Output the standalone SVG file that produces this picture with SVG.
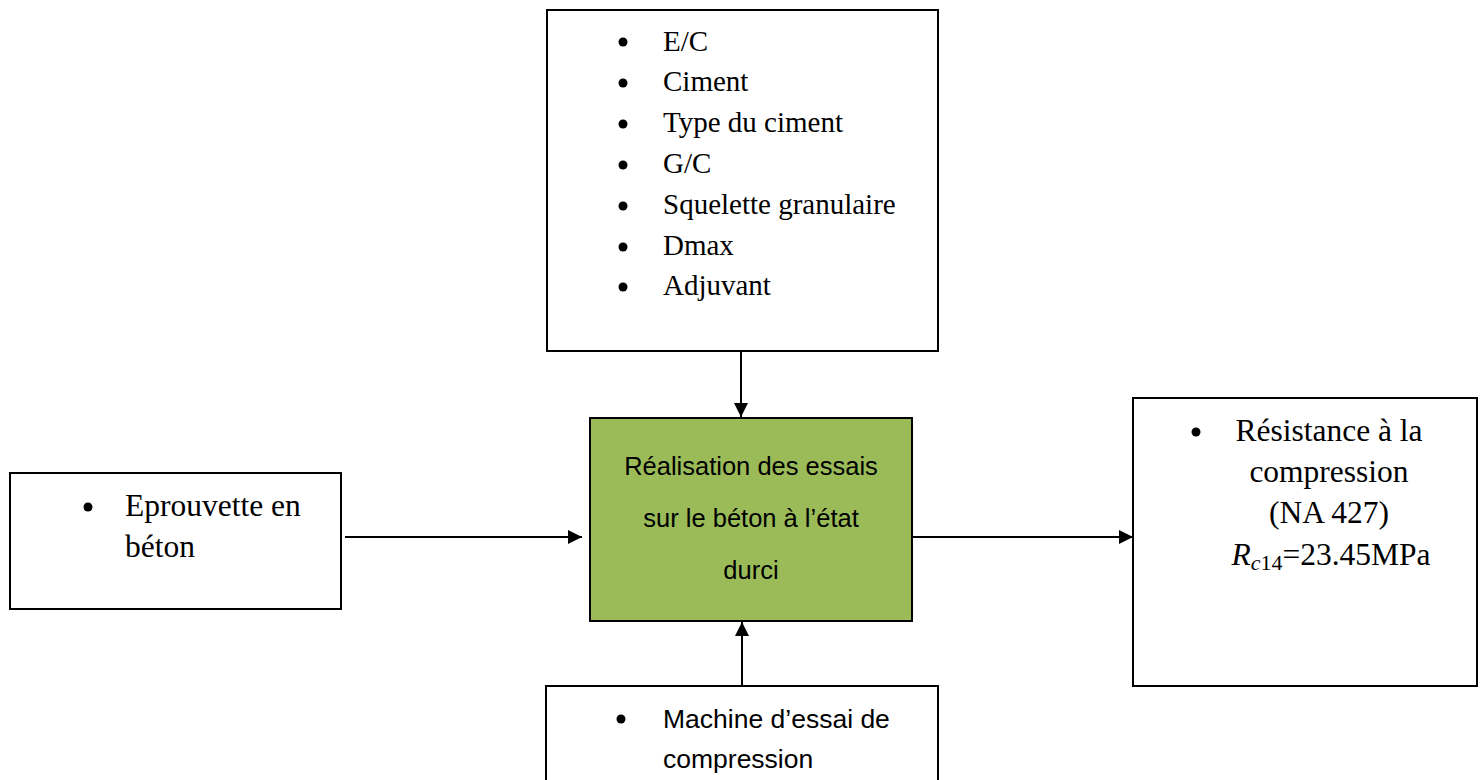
<svg xmlns="http://www.w3.org/2000/svg" width="1484" height="780" viewBox="0 0 1484 780">
<defs>
<style>
.box{fill:#ffffff;stroke:#000000;stroke-width:2}
.main{fill:#9BBB59;stroke:#000000;stroke-width:2}
.serif{font-family:"Liberation Serif","Times New Roman",serif;font-size:29px;fill:#000}
.sans{font-family:"Liberation Sans",Arial,sans-serif;font-size:25.5px;fill:#000}
.conn{stroke:#000;stroke-width:2;fill:none}
</style>
<marker id="ah" viewBox="0 0 14 14" refX="14" refY="7" markerWidth="14" markerHeight="14" markerUnits="userSpaceOnUse" orient="auto">
<path d="M0,0 L14,7 L0,14 z" fill="#000"/>
</marker>
</defs>
<rect width="1484" height="780" fill="#ffffff"/>
<g id="connectors">
<line class="conn" x1="741" y1="351" x2="741" y2="417" marker-end="url(#ah)"/>
<line class="conn" x1="345" y1="537" x2="582" y2="537" marker-end="url(#ah)"/>
<line class="conn" x1="912" y1="537" x2="1133" y2="537" marker-end="url(#ah)"/>
<line class="conn" x1="742" y1="686" x2="742" y2="622" marker-end="url(#ah)"/>
</g>
<g id="node-parametres">
<rect class="box" x="547" y="10" width="391" height="341"/>
<g class="serif">
<circle cx="623" cy="42" r="4.5"/><text x="663" y="51">E/C</text>
<circle cx="623" cy="83" r="4.5"/><text x="663" y="91">Ciment</text>
<circle cx="623" cy="124" r="4.5"/><text x="663" y="132">Type du ciment</text>
<circle cx="623" cy="165" r="4.5"/><text x="663" y="173">G/C</text>
<circle cx="623" cy="206" r="4.5"/><text x="663" y="214">Squelette granulaire</text>
<circle cx="623" cy="247" r="4.5"/><text x="663" y="255">Dmax</text>
<circle cx="623" cy="287" r="4.5"/><text x="663" y="295">Adjuvant</text>
</g>
</g>
<g id="node-realisation">
<rect class="main" x="590" y="418" width="322" height="203"/>
<g class="sans" text-anchor="middle">
<text x="751" y="475">Réalisation des essais</text>
<text x="751" y="527">sur le béton à l’état</text>
<text x="751" y="579">durci</text>
</g>
</g>
<g id="node-eprouvette">
<rect class="box" x="10" y="473" width="331" height="136"/>
<g class="serif" style="font-size:31.5px">
<circle cx="88" cy="507" r="4.5"/>
<text x="125" y="516">Eprouvette en</text>
<text x="125" y="557">béton</text>
</g>
</g>
<g id="node-resistance">
<rect class="box" x="1133" y="398" width="344" height="288"/>
<g class="serif" style="font-size:31.5px" text-anchor="middle">
<circle cx="1196" cy="432" r="4.5"/>
<text x="1329" y="441">Résistance à la</text>
<text x="1329" y="482">compression</text>
<text x="1329" y="523">(NA 427)</text>
<text x="1331" y="565"><tspan font-style="italic">R</tspan><tspan font-style="italic" font-size="22px" dy="5">c</tspan><tspan font-size="22px">14</tspan><tspan dy="-5">=23.45MPa</tspan></text>
</g>
</g>
<g id="node-machine">
<rect class="box" x="546" y="686" width="392" height="110"/>
<g class="sans" style="font-size:26.5px">
<circle cx="621" cy="719" r="4.5"/>
<text x="663" y="728">Machine d’essai de</text>
<text x="663" y="768">compression</text>
</g>
</g>
</svg>
